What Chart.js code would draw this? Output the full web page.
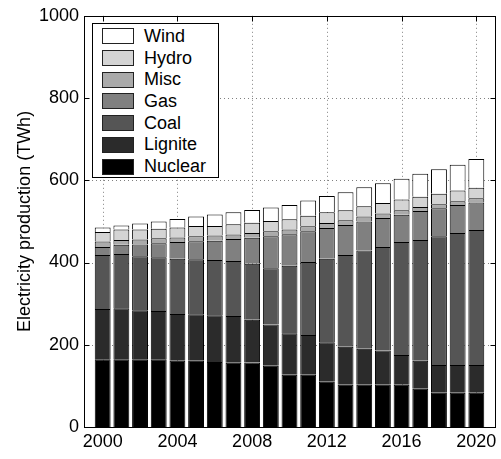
<!DOCTYPE html>
<html><head><meta charset="utf-8">
<script src="https://cdn.jsdelivr.net/npm/chart.js@4"></script>
<style>
html,body{margin:0;padding:0;background:#fff;}
#wrap{position:relative;width:501px;height:459px;}
#legend{position:absolute;left:92px;top:23px;width:125px;height:153px;border:1px solid #000;background:#fff;font-family:"Liberation Sans",Arial,sans-serif;font-size:18px;color:#000;}
.row{position:absolute;left:9px;height:22px;display:flex;align-items:center;white-space:nowrap;}
.sw{width:30px;height:14px;border:1px solid #222;margin-right:10px;box-sizing:content-box;}
</style></head>
<body><div id="wrap"><canvas id="c" width="501" height="459"></canvas><div id="legend"></div></div>
<script>
const years = [2000,2001,2002,2003,2004,2005,2006,2007,2008,2009,2010,2011,2012,2013,2014,2015,2016,2017,2018,2019,2020];
const nuclear = [165,165,165,165,161,161,158,156,157,149,127,127,110,103,103,103,103,93,83,83,83];
const lignite = [122,124,119,117,114,113,114,114,104,100,101,97,96,92,87,83,72,68,68,68,68];
const coal    = [131,132,131,131,134,134,134,134,136,137,164,177,203,223,239,252,275,294,313,321,328];
const gas     = [20,22,29,34,41,44,47,53,63,78,77,75,75,73,71,70,66,70,68,68,67];
const misc    = [13,12,12,12,11,12,13,11,12,12,11,12,12,12,12,11,11,10,10,9,10];
const hydro   = [23,25,24,23,24,25,23,25,25,25,25,26,26,24,25,26,26,25,25,26,26];
const wind    = [11,10,15,18,21,23,28,29,31,33,35,37,40,44,46,48,51,56,60,63,70];
const seriesNames = ['Nuclear','Lignite','Coal','Gas','Misc','Hydro','Wind'];
const seriesValues = [nuclear,lignite,coal,gas,misc,hydro,wind];
const seriesColors = ['#000000','#2b2b2b','#555555','#808080','#aaaaaa','#d4d4d4','#ffffff'];
const xTicks = [2000,2004,2008,2012,2016,2020];
const yTicks = [0,200,400,600,800,1000];
const yTitle = 'Electricity production (TWh)';

const FONT = '"Liberation Sans", Arial, Helvetica, sans-serif';

const framePlugin = {
  id: 'frame',
  beforeDatasetsDraw(chart) {
    const {ctx, chartArea: a, scales: {x, y}} = chart;
    ctx.save();
    ctx.strokeStyle = '#808080';
    ctx.lineWidth = 1;
    ctx.setLineDash([1, 3]);
    xTicks.forEach(v => {
      const px = Math.round(x.getPixelForValue(v)) + 0.5;
      ctx.beginPath(); ctx.moveTo(px, a.top); ctx.lineTo(px, a.bottom); ctx.stroke();
    });
    yTicks.forEach(v => {
      if (v <= y.min || v >= y.max) return;
      const py = Math.round(y.getPixelForValue(v)) + 0.5;
      ctx.beginPath(); ctx.moveTo(a.left, py); ctx.lineTo(a.right, py); ctx.stroke();
    });
    ctx.restore();
  },
  afterDatasetsDraw(chart) {
    const {ctx, chartArea: a, scales: {x, y}} = chart;
    const L = Math.round(a.left) + 0.5, R = Math.round(a.right) + 0.5;
    const T = Math.round(a.top) + 0.5, B = Math.round(a.bottom) + 0.5;
    ctx.save();
    ctx.strokeStyle = '#000';
    ctx.lineWidth = 1;
    ctx.setLineDash([]);
    ctx.strokeRect(L, T, R - L, B - T);
    const tl = 5;
    ctx.beginPath();
    xTicks.forEach(v => {
      const px = Math.round(x.getPixelForValue(v)) + 0.5;
      ctx.moveTo(px, B); ctx.lineTo(px, B - tl);
      ctx.moveTo(px, T); ctx.lineTo(px, T + tl);
    });
    yTicks.forEach(v => {
      const py = Math.round(y.getPixelForValue(v)) + 0.5;
      ctx.moveTo(L, py); ctx.lineTo(L + tl, py);
      ctx.moveTo(R, py); ctx.lineTo(R - tl, py);
    });
    ctx.stroke();
    ctx.restore();
  }
};

const datasets = seriesNames.map((name, i) => ({
  label: name,
  data: years.map((yr, j) => ({x: yr, y: seriesValues[i][j]})),
  backgroundColor: seriesColors[i],
  borderColor: '#000',
  borderWidth: 1,
  borderSkipped: 'start',
  categoryPercentage: 1,
  barPercentage: 0.85
}));

new Chart(document.getElementById('c'), {
  type: 'bar',
  data: {datasets},
  options: {
    responsive: false,
    animation: false,
    devicePixelRatio: 1,
    layout: {padding: {left: 0, right: 6, top: 15, bottom: 0}},
    plugins: {legend: {display: false}, tooltip: {enabled: false}},
    scales: {
      x: {
        type: 'linear', stacked: true, min: 1999, max: 2021, offset: false,
        afterBuildTicks: s => { s.ticks = xTicks.map(v => ({value: v})); },
        afterFit: s => { s.height = 32; },
        grid: {display: false, drawTicks: false, tickLength: 0},
        border: {display: false},
        ticks: {font: {family: FONT, size: 18}, color: '#000', padding: 4, autoSkip: false, maxRotation: 0, callback: v => String(v)}
      },
      y: {
        stacked: true, min: 0, max: 1000,
        afterBuildTicks: s => { s.ticks = yTicks.map(v => ({value: v})); },
        afterFit: s => { s.width = 84; },
        grid: {display: false, drawTicks: false, tickLength: 0},
        border: {display: false},
        ticks: {font: {family: FONT, size: 18}, color: '#000', padding: 5, callback: v => String(v)},
        title: {display: true, text: yTitle, color: '#000', font: {family: FONT, size: 18}, padding: {top: 14, bottom: 0}}
      }
    }
  },
  plugins: [framePlugin]
});

const leg = document.getElementById('legend');
seriesNames.slice().reverse().forEach((name, k) => {
  const i = seriesNames.length - 1 - k;
  const row = document.createElement('div');
  row.className = 'row';
  row.style.top = (1.3 + k * 21.7) + 'px';
  const sw = document.createElement('div');
  sw.className = 'sw';
  sw.style.background = seriesColors[i];
  const tx = document.createElement('span');
  tx.textContent = name;
  row.appendChild(sw); row.appendChild(tx);
  leg.appendChild(row);
});
</script>
</body></html>
